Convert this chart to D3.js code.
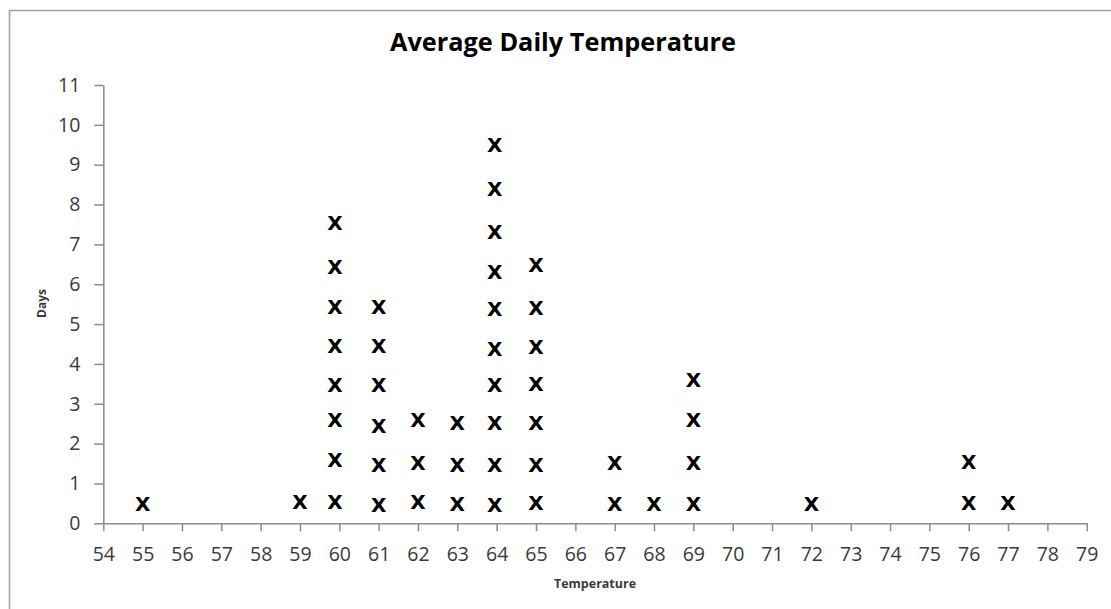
<!DOCTYPE html>
<html>
<head>
<meta charset="utf-8">
<script src="https://cdn.jsdelivr.net/npm/d3@7"></script>
<style>
  html, body { margin: 0; padding: 0; background: #fff; }
  svg { display: block; }
</style>
</head>
<body>
<svg id="chart" width="1111" height="609"></svg>
<script>
// Temperature of each stack of marks, and the height of every mark in it.
const markTemps = [55, 59, 59.89, 61, 62, 63, 63.95, 65, 67, 68, 69, 72, 76, 77];
const markDays = [
  [0.50],
  [0.54],
  [0.54, 1.59, 2.59, 3.47, 4.45, 5.44, 6.44, 7.55],
  [0.46, 1.46, 2.45, 3.47, 4.45, 5.44],
  [0.54, 1.51, 2.61],
  [0.50, 1.46, 2.53],
  [0.46, 1.46, 2.51, 3.47, 4.39, 5.39, 6.31, 7.32, 8.40, 9.49],
  [0.52, 1.48, 2.53, 3.51, 4.43, 5.42, 6.48],
  [0.50, 1.51],
  [0.50],
  [0.50, 1.51, 2.59, 3.60],
  [0.50],
  [0.52, 1.55],
  [0.52]
];
const xTicks = d3.range(54, 80);
const yTicks = d3.range(0, 12);
const titleText = "Average Daily Temperature";
const xTitle = "Temperature";
const yTitle = "Days";

const svg = d3.select("#chart");
const plot = { left: 103.3, right: 1086.7, top: 85, bottom: 523.3 };

const x = d3.scaleLinear().domain([54, 79]).range([plot.left, plot.right]);
const y = d3.scaleLinear().domain([0, 11]).range([plot.bottom, plot.top]);

// chart frame
svg.append("rect")
  .attr("x", 9.5).attr("y", 10.5)
  .attr("width", 1120).attr("height", 620)
  .attr("fill", "#fff")
  .attr("stroke", "#a0a0a0").attr("stroke-width", 1.5);

const axisColor = "#8c8c8c";
const labelColor = "#3a3a3a";
const tickFont = "'Open Sans', 'DejaVu Sans', sans-serif";

// y axis
const gy = svg.append("g")
  .attr("transform", `translate(${plot.left},0)`)
  .call(d3.axisLeft(y).tickValues(yTicks).tickFormat(d3.format("d"))
    .tickSize(9).tickSizeOuter(0).tickPadding(14));
gy.select(".domain").attr("stroke", axisColor).attr("stroke-width", 1.5);
gy.selectAll(".tick line").attr("stroke", axisColor).attr("stroke-width", 1.5);
gy.selectAll(".tick text")
  .attr("fill", labelColor)
  .style("font-family", tickFont).style("font-size", "19.5px");

// x axis
const gx = svg.append("g")
  .attr("transform", `translate(0,${plot.bottom})`)
  .call(d3.axisBottom(x).tickValues(xTicks).tickFormat(d3.format("d"))
    .tickSize(8).tickSizeOuter(0).tickPadding(16));
gx.select(".domain").attr("stroke", axisColor).attr("stroke-width", 1.5);
gx.selectAll(".tick line").attr("stroke", axisColor).attr("stroke-width", 1.5);
gx.selectAll(".tick text")
  .attr("fill", labelColor)
  .style("font-family", tickFont).style("font-size", "19.5px");

// X marks
const marks = [];
markTemps.forEach((t, i) => markDays[i].forEach(d => marks.push({ t, d })));
svg.append("g").selectAll("text")
  .data(marks)
  .join("text")
  .attr("x", m => x(m.t))
  .attr("y", m => y(m.d))
  .attr("dy", "0.36em")
  .attr("text-anchor", "middle")
  .attr("fill", "#000")
  .style("font-family", "'DejaVu Sans', sans-serif")
  .style("font-weight", "bold")
  .style("font-size", "20px")
  .text("X");

// titles
svg.append("text")
  .attr("x", 563).attr("y", 51)
  .attr("text-anchor", "middle")
  .attr("fill", "#000")
  .style("font-family", "'Open Sans', sans-serif")
  .style("font-weight", "bold")
  .style("font-size", "25.3px")
  .text(titleText);

svg.append("text")
  .attr("x", (plot.left + plot.right) / 2).attr("y", 588)
  .attr("text-anchor", "middle")
  .attr("fill", labelColor)
  .style("font-family", "'Open Sans', sans-serif")
  .style("font-weight", "bold")
  .style("font-size", "12.5px")
  .text(xTitle);

svg.append("text")
  .attr("transform", "translate(46,303.5) rotate(-90)")
  .attr("text-anchor", "middle")
  .attr("fill", labelColor)
  .style("font-family", "'Open Sans', sans-serif")
  .style("font-weight", "bold")
  .style("font-size", "12px")
  .text(yTitle);
</script>
</body>
</html>
